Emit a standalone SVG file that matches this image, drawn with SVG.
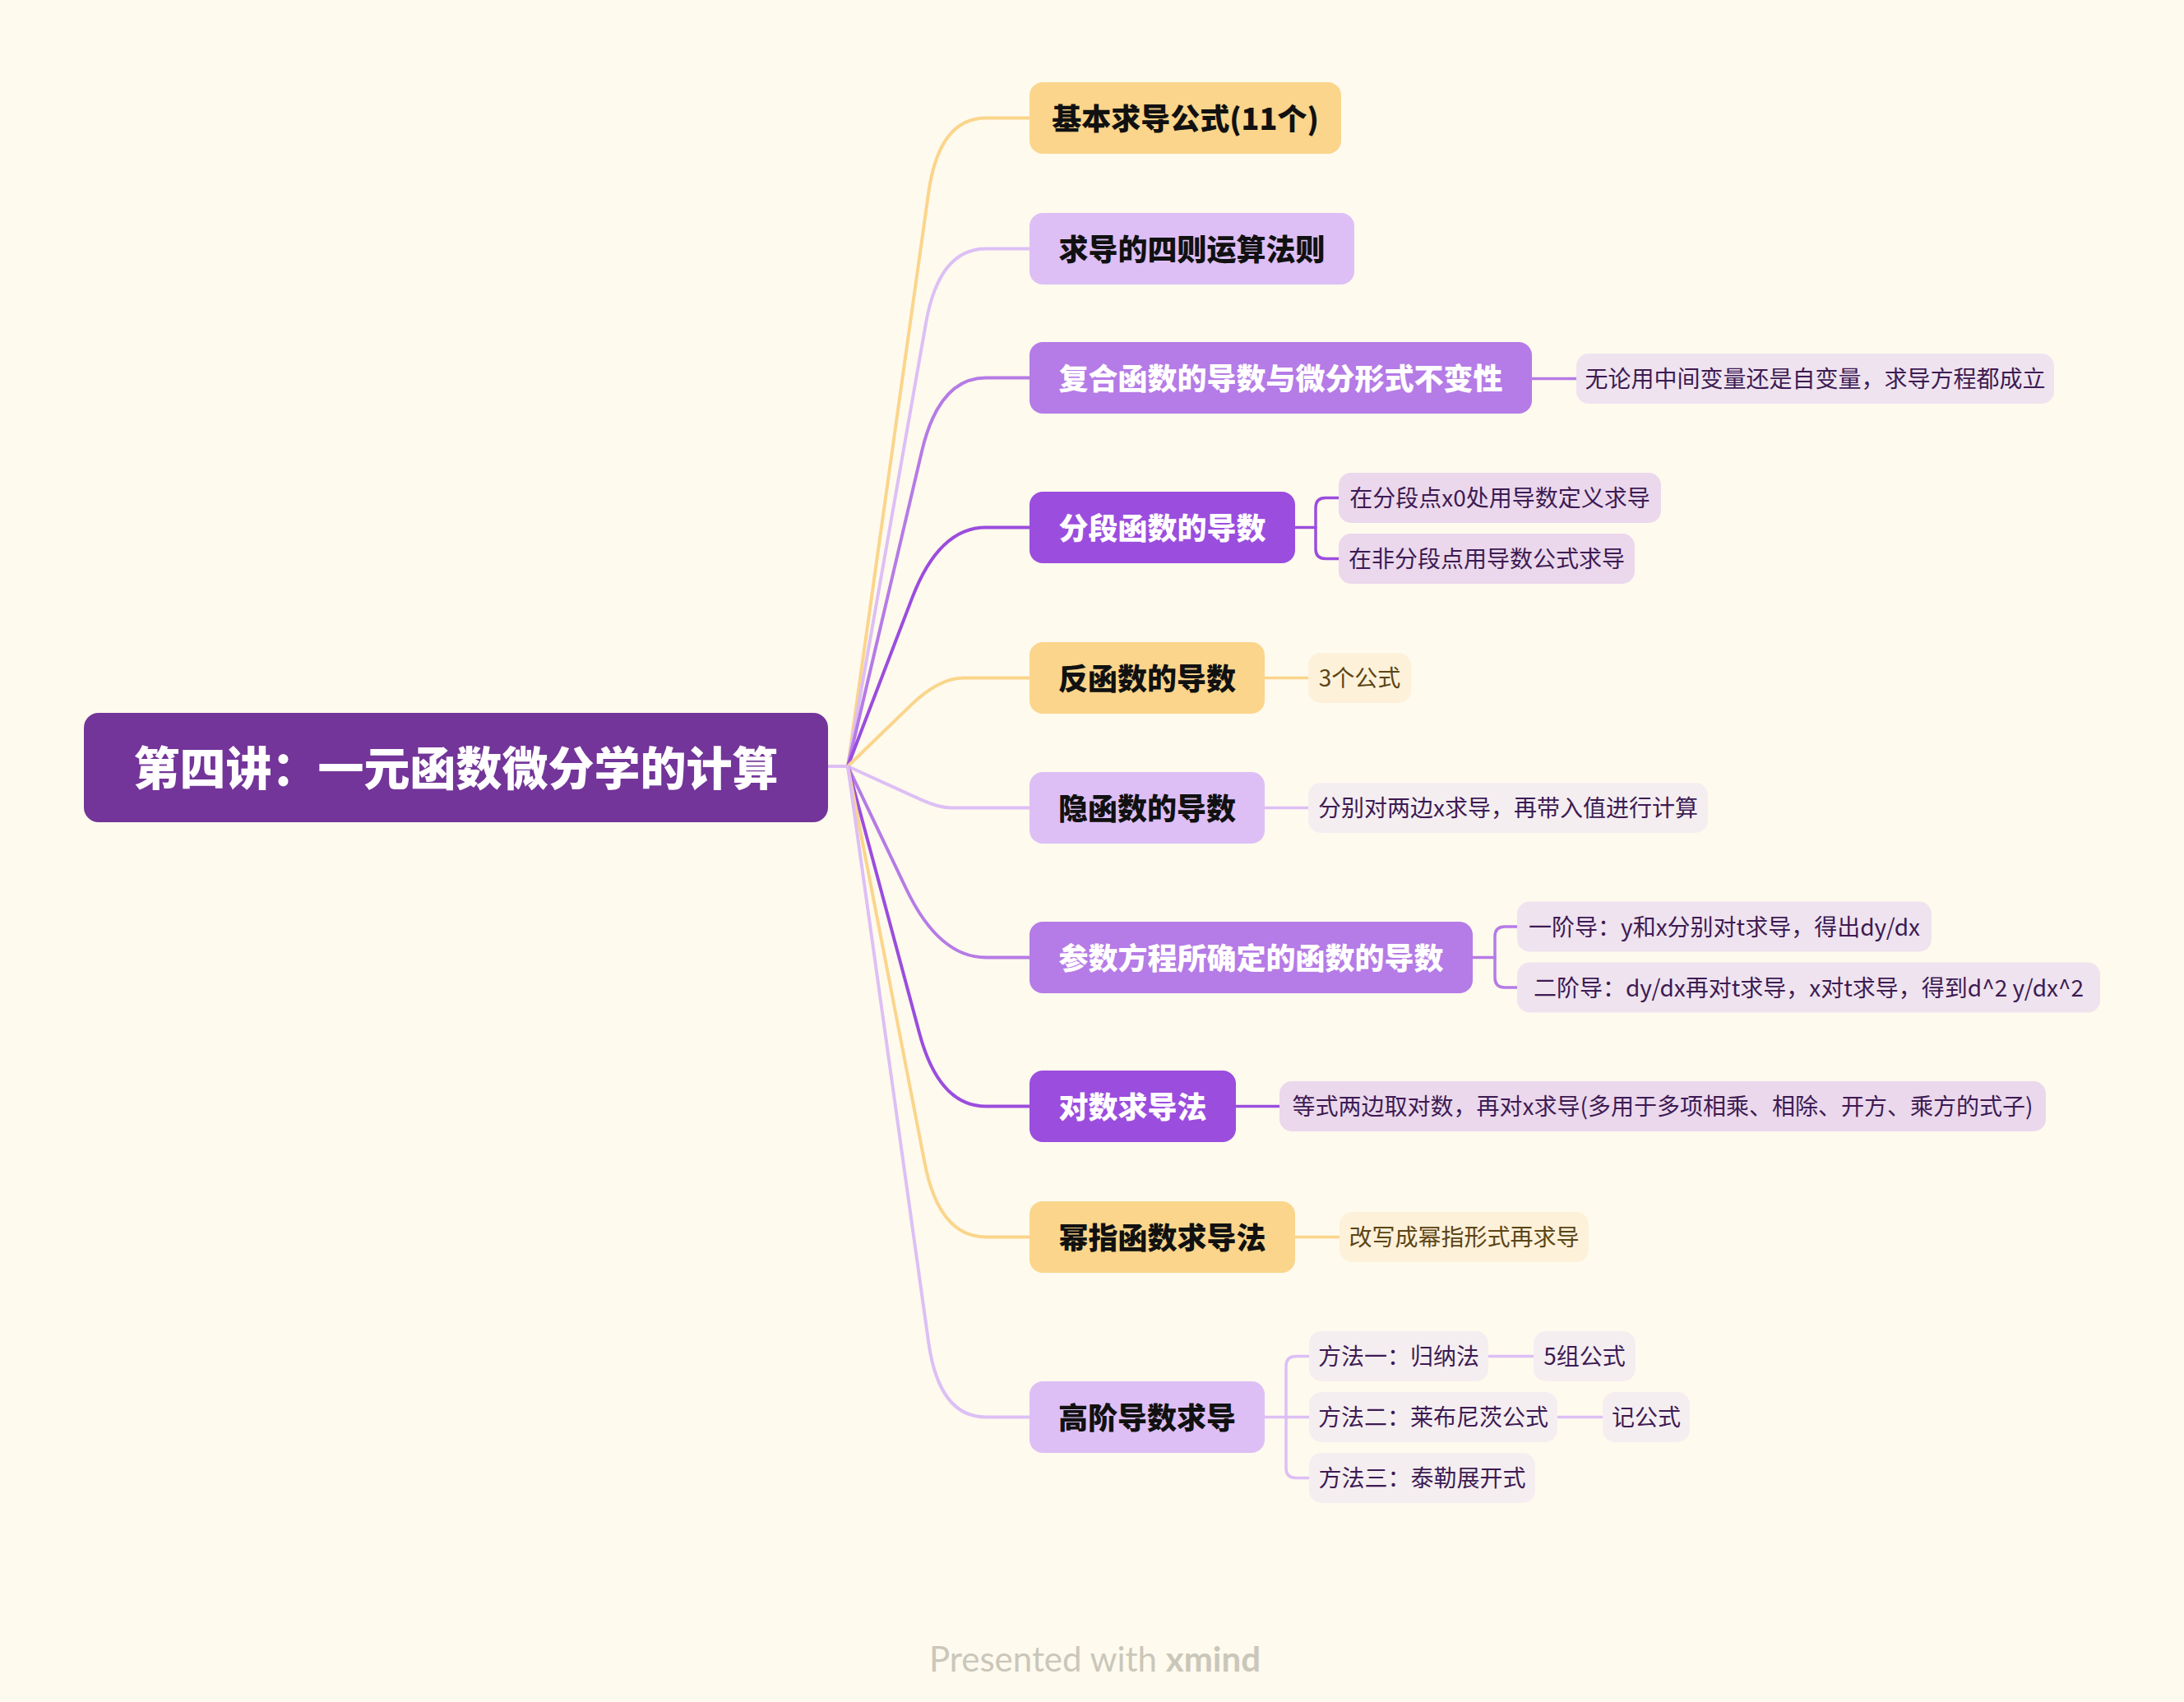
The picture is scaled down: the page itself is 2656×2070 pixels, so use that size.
<svg xmlns="http://www.w3.org/2000/svg" width="2656" height="2070" viewBox="0 0 2656 2070">
<style>
text{font-family:"Noto Sans CJK SC","Noto Sans",sans-serif;text-anchor:middle}
.root{font-size:56px;font-weight:900;fill:#ffffff}
.t{font-size:36px;font-weight:900}
.dk{fill:#111111}
.wh{fill:#ffffff}
.c{font-size:28px;fill:#3d1b53}
.cy{font-size:28px;fill:#5c4515}
.yel{fill:#fad58b}
.lav{fill:#ddbff5}
.pur{fill:#b57be6}
.str{fill:#9b4dde}
.bp{fill:#efe3ef}
.bs{fill:#ebd8ec}
.bl{fill:#f5eef1}
.by{fill:#fdf1da}
.ln{fill:none;stroke-width:4;stroke-linecap:round;stroke-linejoin:round}
.l2{fill:none;stroke-width:3.5;stroke-linecap:round;stroke-linejoin:round}
.sy{stroke:#fad58b}
.sl{stroke:#ddbff5}
.sp{stroke:#b57be6}
.ss{stroke:#9b4dde}
.foot{font-family:Lato,"Liberation Sans",sans-serif;font-size:42px;fill:#cac7ba}
</style>
<rect x="0" y="0" width="2656" height="2070" fill="#fffaee"/>
<g id="connectors">
<path class="ln sl" d="M1007 932 L1031 932"/>
<path class="ln sy" d="M1031 932 L1129.2 234.6 Q1142 143.5 1199 143.5 L1252 143.5"/>
<path class="ln sl" d="M1031 932 L1126 393.1 Q1142 302.5 1199 302.5 L1252 302.5"/>
<path class="ln sp" d="M1031 932 L1121 549.1 Q1142 459.5 1199 459.5 L1252 459.5"/>
<path class="ln ss" d="M1031 932 L1109.2 727.4 Q1142 641.5 1199 641.5 L1252 641.5"/>
<path class="ln sy" d="M1031 932 L1107.5 857.9 Q1142 824.5 1172 824.5 L1252 824.5"/>
<path class="ln sl" d="M1031 932 L1120.2 972.6 Q1142 982.5 1157 982.5 L1252 982.5"/>
<path class="ln sp" d="M1031 932 L1102.3 1081.5 Q1142 1164.5 1199 1164.5 L1252 1164.5"/>
<path class="ln ss" d="M1031 932 L1118.1 1256.6 Q1142 1345.5 1199 1345.5 L1252 1345.5"/>
<path class="ln sy" d="M1031 932 L1124.5 1414.2 Q1142 1504.5 1199 1504.5 L1252 1504.5"/>
<path class="ln sl" d="M1031 932 L1129.2 1632.4 Q1142 1723.5 1199 1723.5 L1252 1723.5"/>
<path class="l2 sp" d="M1863 460.5 L1917 460.5"/>
<path class="l2 ss" d="M1575 641.5 L1600 641.5"/>
<path class="l2 ss" d="M1628 605.5 L1612 605.5 Q1600 605.5 1600 617.5 L1600 667.5 Q1600 679.5 1612 679.5 L1628 679.5"/>
<path class="l2 sy" d="M1538 824.5 L1591 824.5"/>
<path class="l2 sl" d="M1538 982.5 L1591 982.5"/>
<path class="l2 sp" d="M1791 1164.5 L1818 1164.5"/>
<path class="l2 sp" d="M1845 1127 L1830 1127 Q1818 1127 1818 1139 L1818 1189 Q1818 1201 1830 1201 L1845 1201"/>
<path class="l2 ss" d="M1503 1345.5 L1556 1345.5"/>
<path class="l2 sy" d="M1575 1504.5 L1629 1504.5"/>
<path class="l2 sl" d="M1538 1723.5 L1592 1723.5"/>
<path class="l2 sl" d="M1592 1649.5 L1576 1649.5 Q1564 1649.5 1564 1661.5 L1564 1785.5 Q1564 1797.5 1576 1797.5 L1592 1797.5"/>
<path class="l2 sl" d="M1810 1649.5 L1865 1649.5"/>
<path class="l2 sl" d="M1894 1723.5 L1949 1723.5"/>
</g>
<g id="root">
<rect x="102" y="867" width="905" height="133" rx="18" fill="#733599"/>
<text class="root" x="554.5" y="954.5">第四讲：一元函数微分学的计算</text>
</g>
<g id="t1">
<rect class="yel" x="1252" y="100" width="379" height="87" rx="16"/>
<text class="t dk" x="1441.5" y="157.5">基本求导公式(11个)</text>
</g>
<g id="t2">
<rect class="lav" x="1252" y="259" width="395" height="87" rx="16"/>
<text class="t dk" x="1449.5" y="316.5">求导的四则运算法则</text>
</g>
<g id="t3">
<rect class="pur" x="1252" y="416" width="611" height="87" rx="16"/>
<text class="t wh" x="1557.5" y="473.5">复合函数的导数与微分形式不变性</text>
</g>
<g id="t3a">
<rect class="bp" x="1917" y="430" width="581" height="61" rx="15"/>
<text class="c" x="2207.5" y="471">无论用中间变量还是自变量，求导方程都成立</text>
</g>
<g id="t4">
<rect class="str" x="1252" y="598" width="323" height="87" rx="16"/>
<text class="t wh" x="1413.5" y="655.5">分段函数的导数</text>
</g>
<g id="t4a">
<rect class="bs" x="1628" y="575" width="392" height="61" rx="15"/>
<text class="c" x="1824" y="616">在分段点x0处用导数定义求导</text>
</g>
<g id="t4b">
<rect class="bs" x="1628" y="649" width="360" height="61" rx="15"/>
<text class="c" x="1808" y="690">在非分段点用导数公式求导</text>
</g>
<g id="t5">
<rect class="yel" x="1252" y="781" width="286" height="87" rx="16"/>
<text class="t dk" x="1395" y="838.5">反函数的导数</text>
</g>
<g id="t5a">
<rect class="by" x="1591" y="794" width="125" height="61" rx="15"/>
<text class="cy" x="1653.5" y="835">3个公式</text>
</g>
<g id="t6">
<rect class="lav" x="1252" y="939" width="286" height="87" rx="16"/>
<text class="t dk" x="1395" y="996.5">隐函数的导数</text>
</g>
<g id="t6a">
<rect class="bl" x="1591" y="952" width="486" height="61" rx="15"/>
<text class="c" x="1834" y="993">分别对两边x求导，再带入值进行计算</text>
</g>
<g id="t7">
<rect class="pur" x="1252" y="1121" width="539" height="87" rx="16"/>
<text class="t wh" x="1521.5" y="1178.5">参数方程所确定的函数的导数</text>
</g>
<g id="t7a">
<rect class="bp" x="1845" y="1096.5" width="504" height="61" rx="15"/>
<text class="c" x="2097" y="1137.6">一阶导：y和x分别对t求导，得出dy/dx</text>
</g>
<g id="t7b">
<rect class="bp" x="1845" y="1170.5" width="709" height="61" rx="15"/>
<text class="c" x="2199.5" y="1211.6">二阶导：dy/dx再对t求导，x对t求导，得到d^2 y/dx^2</text>
</g>
<g id="t8">
<rect class="str" x="1252" y="1302" width="251" height="87" rx="16"/>
<text class="t wh" x="1377.5" y="1359.5">对数求导法</text>
</g>
<g id="t8a">
<rect class="bs" x="1556" y="1315" width="932" height="61" rx="15"/>
<text class="c" x="2022" y="1356">等式两边取对数，再对x求导(多用于多项相乘、相除、开方、乘方的式子)</text>
</g>
<g id="t9">
<rect class="yel" x="1252" y="1461" width="323" height="87" rx="16"/>
<text class="t dk" x="1413.5" y="1518.5">幂指函数求导法</text>
</g>
<g id="t9a">
<rect class="by" x="1629" y="1474" width="303" height="61" rx="15"/>
<text class="cy" x="1780.5" y="1515">改写成幂指形式再求导</text>
</g>
<g id="t10">
<rect class="lav" x="1252" y="1680" width="286" height="87" rx="16"/>
<text class="t dk" x="1395" y="1737.5">高阶导数求导</text>
</g>
<g id="t10a">
<rect class="bl" x="1592" y="1619" width="218" height="61" rx="15"/>
<text class="c" x="1701" y="1660">方法一：归纳法</text>
</g>
<g id="t10a1">
<rect class="bl" x="1865" y="1619" width="124" height="61" rx="15"/>
<text class="c" x="1927" y="1660">5组公式</text>
</g>
<g id="t10b">
<rect class="bl" x="1592" y="1693" width="302" height="61" rx="15"/>
<text class="c" x="1743" y="1734">方法二：莱布尼茨公式</text>
</g>
<g id="t10b1">
<rect class="bl" x="1949" y="1693" width="106" height="61" rx="15"/>
<text class="c" x="2002" y="1734">记公式</text>
</g>
<g id="t10c">
<rect class="bl" x="1592" y="1767" width="275" height="61" rx="15"/>
<text class="c" x="1729.5" y="1808">方法三：泰勒展开式</text>
</g>
<g id="footer">
<text class="foot" x="1331.5" y="2033">Presented with <tspan font-weight="700">xmind</tspan></text>
</g>
</svg>
